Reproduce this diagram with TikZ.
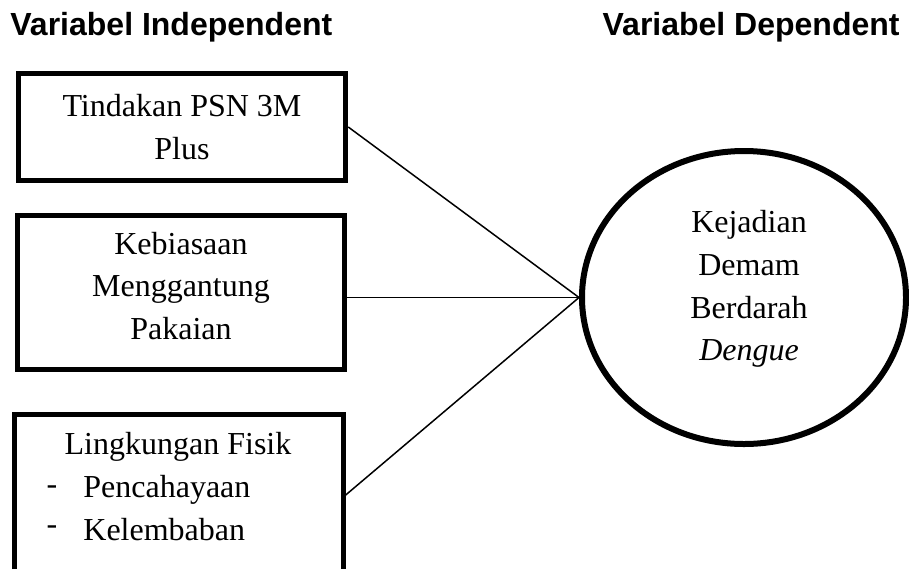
\documentclass[tikz,border=0pt]{standalone}
\usepackage{fontspec}
\setmainfont{Liberation Serif}
\setsansfont{Liberation Sans}
\usetikzlibrary{shapes.geometric}
\begin{document}
\begin{tikzpicture}[x=0.5pt,y=-0.5pt,
  txt/.style={font=\fontsize{16pt}{21.4pt}\selectfont, align=center, inner sep=0pt},
  head/.style={font=\sffamily\bfseries\fontsize{16pt}{19pt}\selectfont, inner sep=0pt},
  boxnode/.style={draw, line width=2.5pt, minimum width=163.75pt, inner sep=0pt},
  frame/.style={line width=2.5pt},
  conn/.style={line width=0.75pt}
]
\useasboundingbox (0,0) rectangle (909,569);
% headings
\node[head, anchor=base west] (hi) at (10,35) {Variabel Independent};
\node[head, anchor=base east] (hd) at (900,35) {Variabel Dependent};
% box 1
\node[boxnode, txt, minimum height=53.25pt] (b1) at (182,127) {Tindakan PSN 3M\\Plus};
% box 2
\node[boxnode, minimum height=77pt] (b2) at (181,292) {};
\node[txt] (t2) at (181,286) {Kebiasaan\\Menggantung\\Pakaian};
% box 3 (cut off at the bottom)
\draw[frame] (14,569) -- (14,414.5) -- (343,414.5) -- (343,569);
\coordinate (c3) at (344.5,496);
\node[txt] (t3a) at (178,447) {Lingkungan Fisik};
\node[txt] (d3b) at (52,490) {-};
\node[txt, anchor=west] (t3b) at (83,490) {Pencahayaan};
\node[txt] (d3c) at (52,530) {-};
\node[txt, anchor=west] (t3c) at (83,530) {Kelembaban};
% ellipse
\node[ellipse, draw, line width=3pt, minimum width=162pt, minimum height=146.5pt, inner sep=0pt] (el) at (744,297.5) {};
\node[txt] (te) at (749,289) {Kejadian\\Demam\\Berdarah\\\textit{Dengue}};
% connectors
\draw[conn] (b1.east) -- (el.west);
\draw[conn] (b2.east |- el.west) -- (el.west);
\draw[conn] (c3) -- (el.west);
\end{tikzpicture}
\end{document}
